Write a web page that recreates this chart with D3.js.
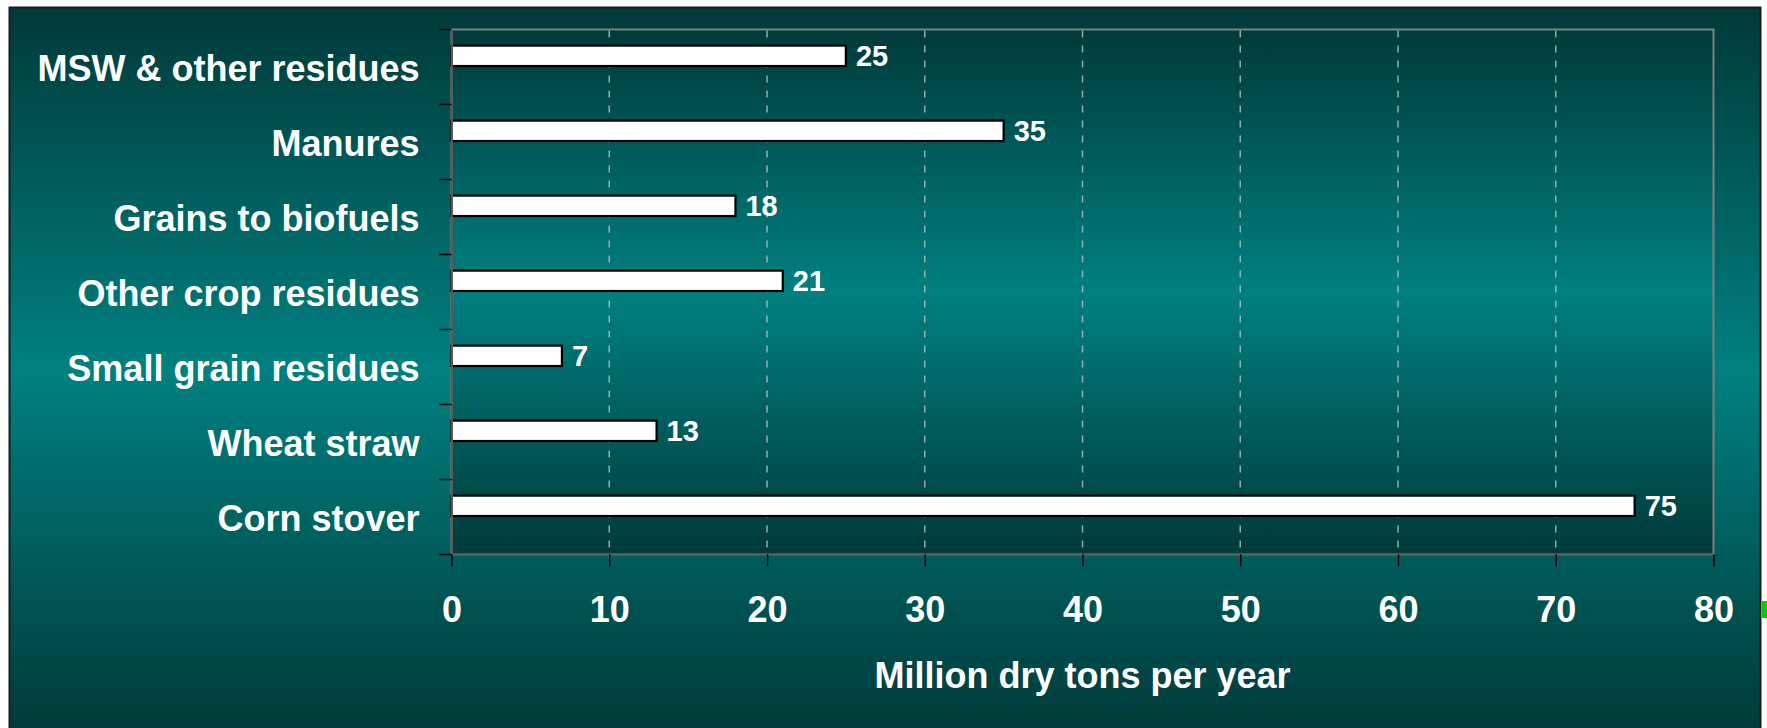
<!DOCTYPE html>
<html>
<head>
<meta charset="utf-8">
<script src="https://cdn.jsdelivr.net/npm/d3@7"></script>
<style>
  html, body { margin: 0; padding: 0; background: #ffffff; }
  svg { display: block; }
  text { font-family: "Liberation Sans", Arial, Helvetica, sans-serif; font-weight: bold; fill: #ffffff; }
</style>
</head>
<body>
<script>
// Biomass resources, million dry tons per year
const categories = [
  "MSW & other residues",
  "Manures",
  "Grains to biofuels",
  "Other crop residues",
  "Small grain residues",
  "Wheat straw",
  "Corn stover"
];
const values = [25, 35, 18, 21, 7, 13, 75];
const xTicks = [0, 10, 20, 30, 40, 50, 60, 70, 80];
const xTitle = "Million dry tons per year";

const W = 1767, H = 728;
const plot = { left: 451.5, right: 1713.5, top: 29.5, bottom: 554.5 };

const svg = d3.select("body").append("svg")
  .attr("width", W).attr("height", H);

const defs = svg.append("defs");
function vGrad(id, stops) {
  const g = defs.append("linearGradient").attr("id", id)
    .attr("x1", 0).attr("y1", 0).attr("x2", 0).attr("y2", 1);
  stops.forEach(([o, c]) => g.append("stop").attr("offset", o).attr("stop-color", c));
}
vGrad("frameFill", [[0, "#003a3a"], [0.5, "#008080"], [1, "#003a3a"]]);
vGrad("plotFill", [[0, "#003a3a"], [0.5, "#008080"], [1, "#003a3a"]]);

// outer panel
svg.append("rect")
  .attr("x", 9.5).attr("y", 7.5)
  .attr("width", 1751).attr("height", 725)
  .attr("fill", "url(#frameFill)")
  .attr("stroke", "#1c1c1c").attr("stroke-width", 2);

// small green marker on the right edge
svg.append("rect")
  .attr("x", 1762).attr("y", 601)
  .attr("width", 5).attr("height", 17)
  .attr("fill", "#00cc00");

const x = d3.scaleLinear().domain([0, 80]).range([plot.left, plot.right]);
const y = d3.scaleBand().domain(categories).range([plot.top, plot.bottom]).padding(0);
const bw = y.bandwidth();

// plot area
svg.append("rect")
  .attr("x", plot.left).attr("y", plot.top)
  .attr("width", plot.right - plot.left).attr("height", plot.bottom - plot.top)
  .attr("fill", "url(#plotFill)")
  .attr("stroke", "#808080").attr("stroke-width", 2);

// dashed vertical gridlines
svg.append("g").selectAll("line")
  .data(xTicks.filter(t => t > 0 && t < 80))
  .join("line")
  .attr("x1", d => x(d)).attr("x2", d => x(d))
  .attr("y1", plot.top + 1).attr("y2", plot.bottom - 1)
  .attr("stroke", "#a9bebe").attr("stroke-opacity", 0.85)
  .attr("stroke-width", 1.5)
  .attr("stroke-dasharray", "7,8");

// bars
svg.append("g").selectAll("rect")
  .data(categories)
  .join("rect")
  .attr("x", x(0))
  .attr("y", d => y(d) + bw * 0.215)
  .attr("width", (d, i) => x(values[i]) - x(0))
  .attr("height", bw * 0.272)
  .attr("fill", "#ffffff")
  .attr("stroke", "#000000").attr("stroke-width", 2.2);

// value labels
svg.append("g").selectAll("text")
  .data(categories)
  .join("text")
  .attr("x", (d, i) => x(values[i]) + 10)
  .attr("y", d => y(d) + bw * 0.35)
  .attr("dy", "0.34em")
  .attr("font-size", 29)
  .text((d, i) => d3.format("d")(values[i]));

// x axis
const xAxis = svg.append("g")
  .attr("transform", `translate(0,${plot.bottom})`)
  .call(d3.axisBottom(x).tickValues(xTicks).tickSize(12).tickPadding(30).tickFormat(d3.format("d")));
xAxis.select(".domain").attr("stroke", "#5a5a5a").attr("stroke-width", 2);
xAxis.selectAll(".tick line").attr("stroke", "#000000").attr("stroke-width", 1.5);
xAxis.selectAll(".tick text")
  .attr("fill", "#ffffff").attr("font-size", 36)
  .style("font-family", "'Liberation Sans', Arial, sans-serif").style("font-weight", "bold");

// y axis: category labels
const yAxis = svg.append("g")
  .attr("transform", `translate(${plot.left},0)`)
  .call(d3.axisLeft(y).tickSize(0).tickPadding(32));
yAxis.select(".domain").attr("stroke", "#5a5a5a").attr("stroke-width", 2);
yAxis.selectAll(".tick text")
  .attr("fill", "#ffffff").attr("font-size", 36)
  .attr("dy", "0.38em")
  .style("font-family", "'Liberation Sans', Arial, sans-serif").style("font-weight", "bold");

// y tick marks at category boundaries
const bounds = categories.map(c => y(c)).concat([y(categories[categories.length - 1]) + bw]);
svg.append("g").selectAll("line")
  .data(bounds)
  .join("line")
  .attr("x1", plot.left - 12).attr("x2", plot.left)
  .attr("y1", d => d).attr("y2", d => d)
  .attr("stroke", "#000000").attr("stroke-width", 1.5);

// axis title
svg.append("text")
  .attr("x", (plot.left + plot.right) / 2)
  .attr("y", 688)
  .attr("text-anchor", "middle")
  .attr("font-size", 36)
  .text(xTitle);
</script>
</body>
</html>
